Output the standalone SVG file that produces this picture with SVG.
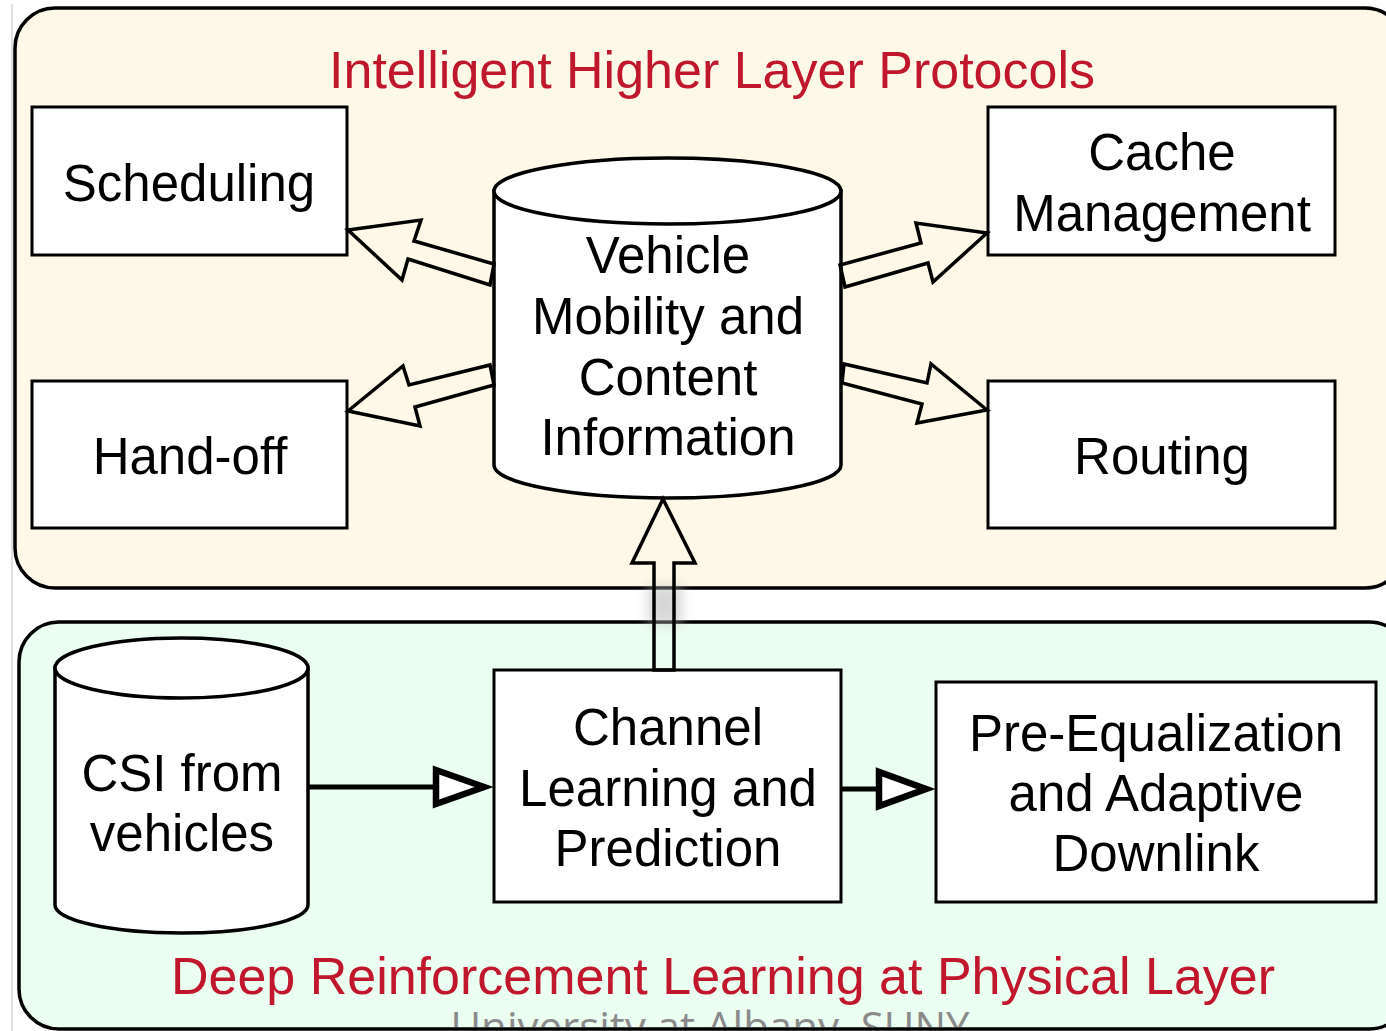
<svg xmlns="http://www.w3.org/2000/svg" width="1386" height="1031" viewBox="0 0 1386 1031">
  <defs>
    <style>
      .panel { stroke: #000; stroke-width: 3.5; }
      .box { fill: #fff; stroke: #000; stroke-width: 3; }
      .cyl { fill: #fff; stroke: #000; stroke-width: 3.5; }
      .label { font-family: "Liberation Sans", Arial, sans-serif; font-size: 51px; fill: #000; text-anchor: middle; }
      .title { font-family: "Liberation Sans", Arial, sans-serif; font-size: 52px; fill: #c0172d; text-anchor: middle; }
      .hollow { fill: none; stroke: #000; stroke-width: 3.5; stroke-linejoin: miter; }
      .line { stroke: #000; stroke-width: 5; fill: none; }
      .head { fill: #fff; stroke: #000; stroke-width: 6.5; stroke-linejoin: miter; }
      .mark { font-family: "Open Sans", "Liberation Sans", sans-serif; font-size: 42px; fill: #8a8a8a; text-anchor: middle; }
    </style>
    <filter id="soft" x="-50%" y="-50%" width="200%" height="200%">
      <feGaussianBlur stdDeviation="6"/>
    </filter>
    <clipPath id="lowerPanelClip">
      <rect x="0" y="0" width="1386" height="1027"/>
    </clipPath>
  </defs>

  <rect width="1386" height="1031" fill="#fff"/>
  <line x1="12" y1="4" x2="12" y2="1031" stroke="#d4d4d4" stroke-width="1.5"/>

  <!-- upper panel: higher layer protocols -->
  <g id="panel-upper">
    <rect class="panel" x="15" y="8" width="1390" height="580" rx="40" fill="#fdf8e8"/>
    <text class="title" x="712" y="88">Intelligent Higher Layer Protocols</text>
  </g>

  <!-- lower panel: physical layer -->
  <g id="panel-lower">
    <rect x="19" y="622" width="1390" height="407" rx="40" fill="#ecfdf1"/>
    <text class="mark" x="710" y="1042" clip-path="url(#lowerPanelClip)">University at Albany, SUNY</text>
    <rect class="panel" x="19" y="622" width="1390" height="407" rx="40" fill="none"/>
    <text class="title" x="723" y="994">Deep Reinforcement Learning at Physical Layer</text>
  </g>

  <!-- soft shadow in the gap between the panels -->
  <rect x="648" y="586" width="34" height="38" fill="#bdbdbd" opacity="0.6" filter="url(#soft)"/>

  <g id="scheduling">
    <rect class="box" x="32" y="107" width="315" height="148"/>
    <text class="label" x="189" y="201">Scheduling</text>
  </g>

  <g id="handoff">
    <rect class="box" x="32" y="381" width="315" height="147"/>
    <text class="label" x="190" y="474">Hand-off</text>
  </g>

  <g id="cache">
    <rect class="box" x="988" y="107" width="347" height="148"/>
    <text class="label" x="1162" y="170">Cache</text>
    <text class="label" x="1162" y="231">Management</text>
  </g>

  <g id="routing">
    <rect class="box" x="988" y="381" width="347" height="147"/>
    <text class="label" x="1162" y="474">Routing</text>
  </g>

  <g id="vehicle-info">
    <path class="cyl" d="M494,191 L494,465 A173.5,33 0 0 0 841,465 L841,191 Z"/>
    <ellipse class="cyl" cx="667.5" cy="191" rx="173.5" ry="33"/>
    <text class="label" x="668" y="273">Vehicle</text>
    <text class="label" x="668" y="334">Mobility and</text>
    <text class="label" x="668" y="395">Content</text>
    <text class="label" x="668" y="455">Information</text>
  </g>

  <g id="csi">
    <path class="cyl" d="M55,668 L55,905 A126.5,28 0 0 0 308,905 L308,668 Z"/>
    <ellipse class="cyl" cx="181.5" cy="668" rx="126.5" ry="30"/>
    <text class="label" x="182" y="791">CSI from</text>
    <text class="label" x="182" y="851">vehicles</text>
  </g>

  <g id="channel">
    <rect class="box" x="494" y="670" width="347" height="232"/>
    <text class="label" x="668" y="745">Channel</text>
    <text class="label" x="668" y="806">Learning and</text>
    <text class="label" x="668" y="866">Prediction</text>
  </g>

  <g id="precoding">
    <rect class="box" x="936" y="682" width="440" height="220"/>
    <text class="label" x="1156" y="751">Pre-Equalization</text>
    <text class="label" x="1156" y="811">and Adaptive</text>
    <text class="label" x="1156" y="871">Downlink</text>
  </g>

  <g id="connectors">
    <!-- hollow block arrows from the information store -->
    <polygon class="hollow" points="348,230 421,220 414,241 494,264 490,285 408,259 402,280"/>
    <polygon class="hollow" points="348,411 403,366 409,385 490,365 494,385 415,407 420,426"/>
    <polygon class="hollow" points="987,233 916,223 921,243 840,265 845,287 928,263 933,282"/>
    <polygon class="hollow" points="987,410 931,364 927,383 844,364 842,383 922,404 917,423"/>
    <!-- hollow arrow from channel learning up to the store -->
    <polygon class="hollow" points="654,670 654,563 632,563 663,499 695,563 674,563 674,670"/>
    <!-- CSI to channel learning -->
    <line class="line" x1="308" y1="787" x2="436" y2="787"/>
    <polygon class="head" points="436,770 436,804 484,787"/>
    <!-- channel learning to pre-equalization -->
    <line class="line" x1="841" y1="789" x2="879" y2="789"/>
    <polygon class="head" points="879,772 879,806 926,789"/>
  </g>
</svg>
